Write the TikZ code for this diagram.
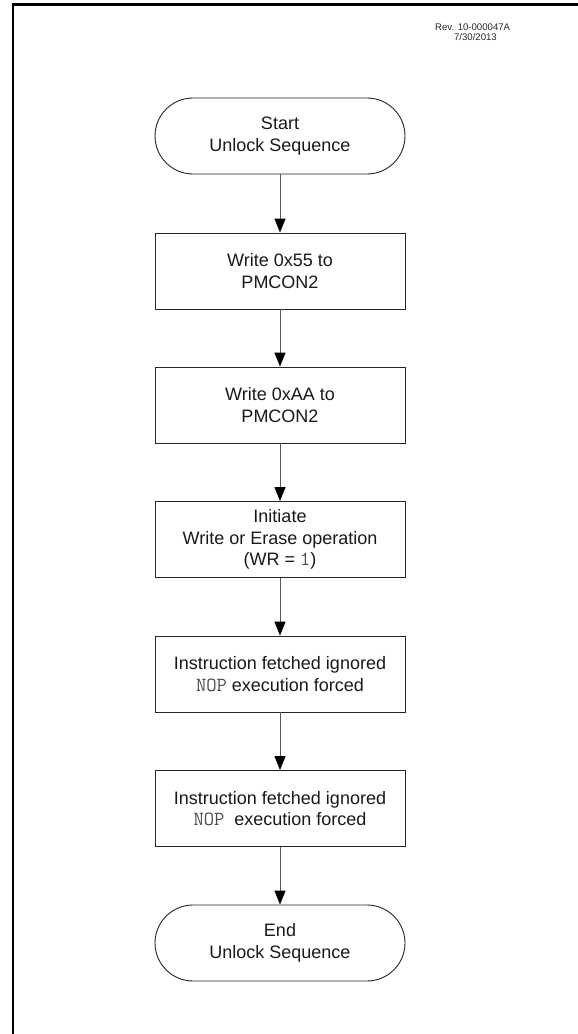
\documentclass[tikz,border=0pt]{standalone}
\usepackage{fontspec}
\setmainfont{Liberation Sans}
\usetikzlibrary{arrows.meta}
\newcommand{\mono}[1]{{\ttfamily\fontsize{20}{21.5}\selectfont\color{black!70}#1}}
\begin{document}
\begin{tikzpicture}[x=1pt,y=-1pt,
  stepbox/.style={draw=black!85, line width=0.9pt, minimum width=250pt, minimum height=76pt,
    inner sep=0pt, align=center, font=\fontsize{18}{21.5}\selectfont, text=black!90},
  termbox/.style={stepbox, rounded corners=38pt},
  flow/.style={draw=black!65, line width=1pt, -{Triangle[length=14pt,width=11pt,fill=black,color=black]}},
  revtext/.style={inner sep=0pt, font=\fontsize{9.6}{10}\selectfont, text=black!85}]
\useasboundingbox (0,0) rectangle (578,1034);
% frame
\draw[line width=2.3pt, black] (13.2,1034) -- (13.2,4.5) -- (578,4.5);
% revision text
\node[revtext, anchor=base west] (rev) at (435,30.7) {Rev. 10-000047A};
\node[revtext, anchor=base east] (date) at (497,40.7) {7/30/2013};
% nodes
\node[termbox] (start) at (280,136) {Start\\Unlock Sequence};
\node[stepbox] (w55) at (280,271) {Write 0x55 to\\PMCON2};
\node[stepbox] (waa) at (280,405) {Write 0xAA to\\PMCON2};
\node[stepbox] (init) at (280,539.5) {Initiate\\Write or Erase operation\\(WR = \mono{1})};
\node[stepbox] (nop1) at (280,674) {Instruction fetched ignored\\\mono{NOP} execution forced};
\node[stepbox] (nop2) at (280,808.5) {Instruction fetched ignored\\\mono{NOP}\ \ execution forced};
\node[termbox] (end) at (280,943) {End\\Unlock Sequence};
% connectors
\draw[flow] (start) -- (w55);
\draw[flow] (w55) -- (waa);
\draw[flow] (waa) -- (init);
\draw[flow] (init) -- (nop1);
\draw[flow] (nop1) -- (nop2);
\draw[flow] (nop2) -- (end);
\end{tikzpicture}
\end{document}
